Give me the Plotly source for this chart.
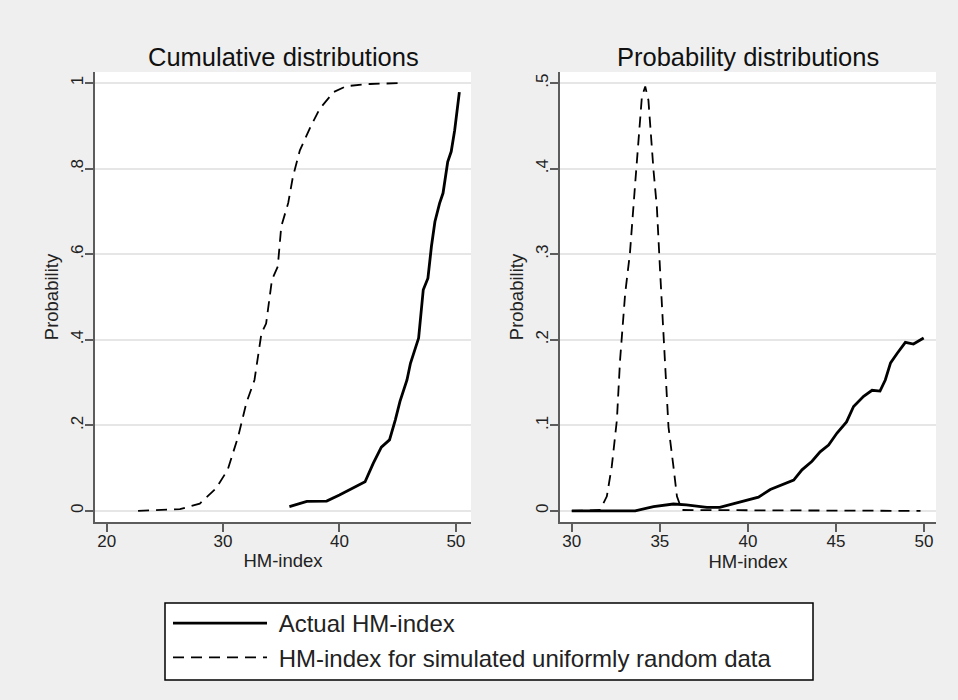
import plotly.graph_objects as go

# ---------------- data ----------------
# Left panel: cumulative distributions
cdf_sim_x = [22.7, 26.3, 28.0, 29.4, 30.4, 31.3, 32.0, 32.7, 33.3, 33.7, 34.2, 34.7,
             35.0, 35.6, 36.0, 36.6, 37.5, 38.3, 39.5, 40.6, 42.6, 45.2]
cdf_sim_y = [0.0, 0.004, 0.017, 0.053, 0.096, 0.174, 0.252, 0.306, 0.415, 0.438, 0.540, 0.571,
             0.665, 0.720, 0.781, 0.843, 0.897, 0.940, 0.979, 0.993, 0.998, 1.0]

cdf_act_x = [35.7, 37.2, 38.9, 40.0, 42.2, 42.9, 43.6, 44.3, 44.8, 45.2, 45.8, 46.1,
             46.8, 47.2, 47.6, 47.9, 48.2, 48.6, 48.9, 49.3, 49.6, 49.9, 50.3]
cdf_act_y = [0.010, 0.022, 0.023, 0.037, 0.068, 0.111, 0.149, 0.166, 0.213, 0.256, 0.306, 0.345,
             0.404, 0.517, 0.544, 0.618, 0.676, 0.719, 0.743, 0.816, 0.840, 0.890, 0.979]

# Right panel: probability distributions
pdf_sim_x = [30.0, 31.6, 31.99, 32.27, 32.56, 32.74, 33.03, 33.3, 33.6, 33.78, 33.98, 34.17,
             34.35, 34.64, 34.83, 35.02, 35.2, 35.3, 35.49, 35.77, 35.97, 36.25, 49.8]
pdf_sim_y = [0.0, 0.001, 0.017, 0.052, 0.106, 0.176, 0.254, 0.301, 0.383, 0.433, 0.484, 0.496,
             0.480, 0.398, 0.355, 0.278, 0.208, 0.176, 0.098, 0.052, 0.017, 0.001, 0.0]

pdf_act_x = [30.0, 33.6, 34.64, 35.77, 36.5, 37.67, 38.4, 38.99, 39.75, 40.6, 41.27, 42.0,
             42.6, 43.07, 43.64, 44.1, 44.58, 45.06, 45.6, 46.0, 46.57, 47.05, 47.5, 47.8,
             48.1, 48.47, 48.94, 49.4, 49.98]
pdf_act_y = [0.0, 0.0, 0.005, 0.008, 0.007, 0.004, 0.004, 0.007, 0.011, 0.016, 0.025, 0.031,
             0.036, 0.048, 0.058, 0.069, 0.077, 0.091, 0.104, 0.122, 0.134, 0.141, 0.140, 0.153,
             0.173, 0.184, 0.197, 0.195, 0.202]

left_xticks = [20, 30, 40, 50]
left_yticks = [0, 0.2, 0.4, 0.6, 0.8, 1.0]
left_yticklabels = ["0", ".2", ".4", ".6", ".8", "1"]
right_xticks = [30, 35, 40, 45, 50]
right_yticks = [0, 0.1, 0.2, 0.3, 0.4, 0.5]
right_yticklabels = ["0", ".1", ".2", ".3", ".4", ".5"]

name_actual = "Actual HM-index"
name_sim = "HM-index for simulated uniformly random data"
title_left = "Cumulative distributions"
title_right = "Probability distributions"
xtitle = "HM-index"
ytitle = "Probability"

# ---------------- figure ----------------
W, H = 958, 700
FONT = "Liberation Sans, Arial, Helvetica, sans-serif"
BG = "#efefef"
AXC = "#5c5c5c"
GRID = "#e6e6e6"
PAD = "\u00a0"  # small gap between legend key and label

solid = dict(color="black", width=2.8)
dashed = dict(color="black", width=1.8, dash="11px,7px")

fig = go.Figure()
fig.add_trace(go.Scatter(x=cdf_act_x, y=cdf_act_y, mode="lines", line=solid,
                         name=PAD + name_actual, xaxis="x", yaxis="y", legendrank=1))
fig.add_trace(go.Scatter(x=cdf_sim_x, y=cdf_sim_y, mode="lines", line=dashed,
                         name=PAD + name_sim, xaxis="x", yaxis="y", legendrank=2))
fig.add_trace(go.Scatter(x=pdf_act_x, y=pdf_act_y, mode="lines", line=solid,
                         name=name_actual, xaxis="x2", yaxis="y2", showlegend=False))
fig.add_trace(go.Scatter(x=pdf_sim_x, y=pdf_sim_y, mode="lines", line=dashed,
                         name=name_sim, xaxis="x2", yaxis="y2", showlegend=False))

ydom = [1 - 522 / H, 1 - 72 / H]

common_x = dict(showgrid=False, zeroline=False, showline=True, linecolor=AXC, linewidth=1.5,
                ticks="outside", ticklen=8, tickcolor=AXC, tickwidth=1.5,
                ticklabelstandoff=-5,
                tickfont=dict(size=17, color="#222"),
                title=dict(text=xtitle, font=dict(size=18.5, color="#222"), standoff=4))
common_y = dict(showgrid=True, gridcolor=GRID, gridwidth=1.5, zeroline=False, showline=True,
                linecolor=AXC, linewidth=1.5, ticks="outside", ticklen=8, tickcolor=AXC,
                tickwidth=1.5, tickangle=-90, ticklabelstandoff=-5,
                tickfont=dict(size=17, color="#222"),
                title=dict(text=ytitle, font=dict(size=18.5, color="#222"), standoff=5))

fig.update_layout(
    width=W, height=H,
    paper_bgcolor=BG, plot_bgcolor="white",
    font=dict(family=FONT, color="#222"),
    margin=dict(l=0, r=0, t=0, b=0),
    xaxis=dict(domain=[95 / W, 471 / W], range=[19.0, 51.3], tickvals=left_xticks,
               anchor="y", **common_x),
    yaxis=dict(domain=ydom, range=[-0.026, 1.026], tickvals=left_yticks,
               ticktext=left_yticklabels, anchor="x", **common_y),
    xaxis2=dict(domain=[560 / W, 936 / W], range=[29.33, 50.68], tickvals=right_xticks,
                anchor="y2", **common_x),
    yaxis2=dict(domain=ydom, range=[-0.013, 0.513], tickvals=right_yticks,
                ticktext=right_yticklabels, anchor="x2", **common_y),
    showlegend=True,
    legend=dict(x=168 / W, y=1 - 601 / H, xanchor="left", yanchor="top",
                bgcolor="rgba(0,0,0,0)", borderwidth=0, itemwidth=94,
                font=dict(size=24, color="#222")),
    annotations=[
        dict(text=title_left, x=(95 + 471) / 2 / W, y=1 - 57 / H, xref="paper", yref="paper",
             showarrow=False, xanchor="center", yanchor="middle", font=dict(size=25.5, color="#111")),
        dict(text=title_right, x=(560 + 936) / 2 / W, y=1 - 57 / H, xref="paper", yref="paper",
             showarrow=False, xanchor="center", yanchor="middle", font=dict(size=25.5, color="#111")),
    ],
    shapes=[
        dict(type="rect", xref="paper", yref="paper", x0=165 / W, x1=813 / W,
             y0=1 - 680 / H, y1=1 - 603 / H, line=dict(color="black", width=1.5),
             fillcolor="white", layer="below"),
    ],
)

fig.write_html("out.html", config={"displayModeBar": False},
               post_script="document.body.style.margin='0';"
                           "document.body.style.background='" + BG + "';")
